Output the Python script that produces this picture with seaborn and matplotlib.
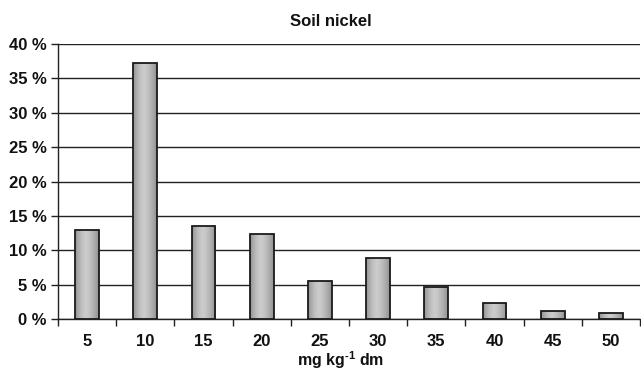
import numpy as np
import pandas as pd
import matplotlib
matplotlib.use("Agg")
import matplotlib.pyplot as plt
import seaborn as sns
from matplotlib.ticker import FixedLocator

categories = ["5", "10", "15", "20", "25", "30", "35", "40", "45", "50"]
values = [12.95, 37.3, 13.6, 12.4, 5.5, 8.85, 4.65, 2.3, 1.15, 0.85]
y_ticks = [0, 5, 10, 15, 20, 25, 30, 35, 40]
y_labels = [f"{v} %" for v in y_ticks]

sns.set_theme(style="white")
plt.rcParams['font.family'] = ['Liberation Sans', 'DejaVu Sans']
plt.rcParams['mathtext.fontset'] = 'custom'
plt.rcParams['mathtext.rm'] = 'Liberation Sans:bold'
plt.rcParams['mathtext.bf'] = 'Liberation Sans:bold'
plt.rcParams['mathtext.it'] = 'Liberation Sans:bold'

df = pd.DataFrame({"cat": categories, "val": values})

fig = plt.figure(figsize=(6.41, 3.70), dpi=100)
ax = fig.add_axes([58/641, (370-319)/370, (640-58)/641, (319-44)/370])

sns.barplot(data=df, x="cat", y="val", order=categories, color="#b0b0b0",
            width=0.41, edgecolor="#1a1a1a", linewidth=1.3, ax=ax, zorder=3)

# cylinder-like gray gradient in each bar
grad = np.array([0.58, 0.65, 0.72, 0.77, 0.80, 0.78, 0.74, 0.69, 0.63, 0.57])
xs = np.linspace(0, 1, 200)
shade = np.interp(xs, np.linspace(0, 1, len(grad)), grad)
img = np.tile(shade, (2, 1))
for p in ax.patches:
    x0, y0 = p.get_x(), p.get_y()
    w, h = p.get_width(), p.get_height()
    im = ax.imshow(img, cmap="gray", vmin=0, vmax=1, aspect="auto",
                   extent=[x0, x0 + w, y0, y0 + h], zorder=3.5,
                   interpolation="bilinear")
    im.set_clip_path(p)
    p.set_facecolor("none")
    p.set_zorder(4)

ax.set_xlim(-0.5, 9.5)
ax.set_ylim(0, 40)
ax.set_yticks(y_ticks)
ax.set_yticklabels(y_labels, fontsize=12, fontweight="bold")
ax.yaxis.grid(True, color="#222222", linewidth=1.0, zorder=0)
ax.set_axisbelow(True)

ax.xaxis.set_minor_locator(FixedLocator(np.arange(-0.5, 10, 1)))
ax.tick_params(axis="x", which="major", length=0, pad=11, labelsize=12)
ax.tick_params(axis="x", which="minor", length=5, width=1, color="#222222", direction="out", bottom=True)
ax.tick_params(axis="y", length=5, width=1, color="#222222", direction="out", left=True, pad=3,
               labelcolor="#111111")
for lbl in ax.get_xticklabels():
    lbl.set_fontweight("bold")
    lbl.set_color("#111111")

for s in ["top", "right"]:
    ax.spines[s].set_visible(False)
for s in ["left", "bottom"]:
    ax.spines[s].set_color("#222222")
    ax.spines[s].set_linewidth(1.0)

ax.set_xlabel(r"mg kg$^{\text{-1}}$ dm", fontsize=11.5, fontweight="bold", color="#111111", va="center")
ax.xaxis.set_label_coords((341 - 58) / 582, -41 / 275)
ax.set_ylabel("")
ax.text((331 - 58) / 582, 1 + 22 / 275, "Soil nickel", transform=ax.transAxes,
        ha="center", va="center", fontsize=12, fontweight="bold", color="#111111")

fig.savefig("out.png", dpi=100)
